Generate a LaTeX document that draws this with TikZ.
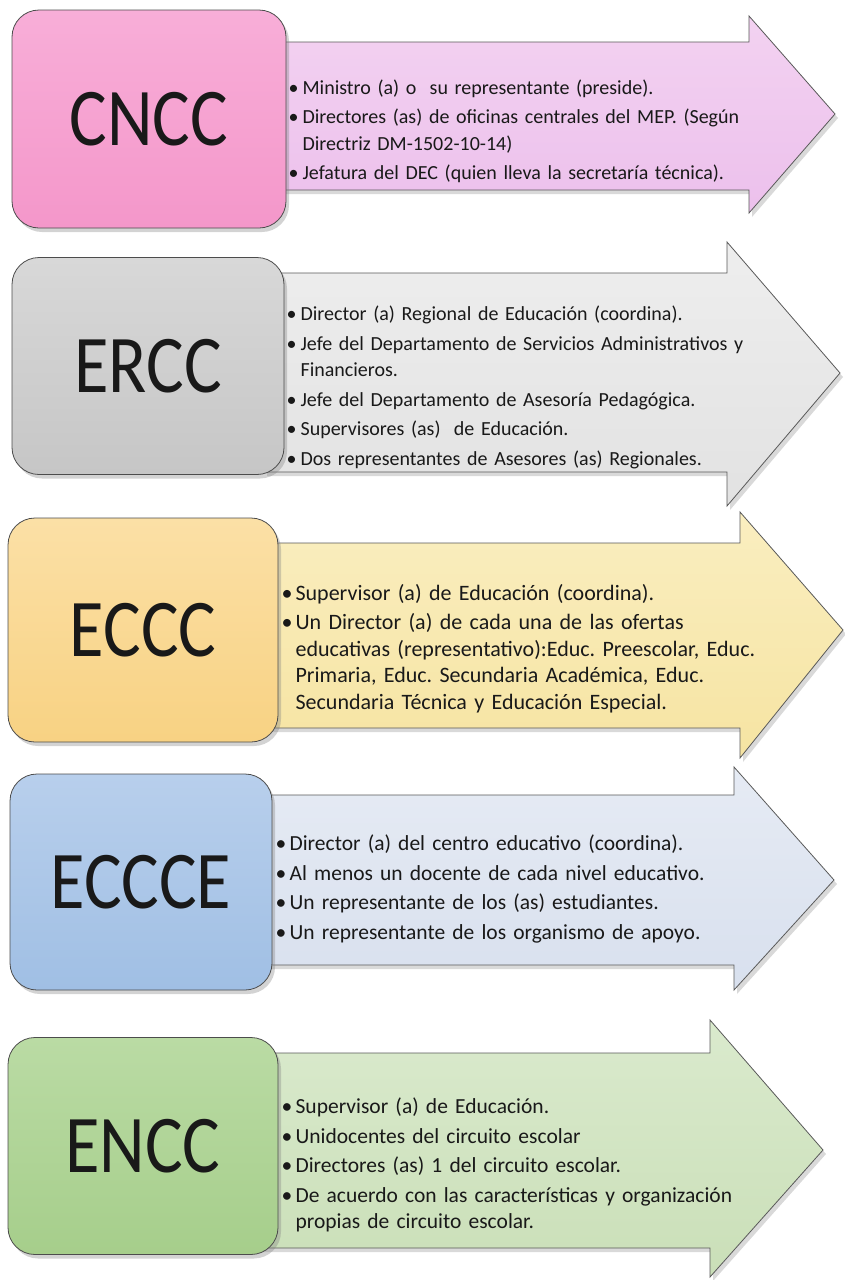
\documentclass[tikz,border=0pt]{standalone}
\usepackage{fontspec}
\setmainfont[WordSpace=0.9]{Carlito}
\newfontfamily\titlefont[FakeStretch=0.86]{Carlito}
\usepackage{tikz}
\usetikzlibrary{positioning}
\usetikzlibrary{shadows}
\usepackage{xcolor}

\definecolor{cnccBox}{HTML}{F497CA}
\definecolor{cnccBoxTop}{HTML}{F8AED8}
\definecolor{cnccArrow}{HTML}{ECC0EC}
\definecolor{cnccArrowTop}{HTML}{F3D2F1}
\definecolor{erccBox}{HTML}{C6C6C6}
\definecolor{erccBoxTop}{HTML}{D8D8D8}
\definecolor{erccArrow}{HTML}{E2E2E2}
\definecolor{erccArrowTop}{HTML}{EEEEEE}
\definecolor{ecccBox}{HTML}{F8D283}
\definecolor{ecccBoxTop}{HTML}{FBE0A6}
\definecolor{ecccArrow}{HTML}{F6E4A2}
\definecolor{ecccArrowTop}{HTML}{FAEEC0}
\definecolor{eccceBox}{HTML}{A0BFE4}
\definecolor{eccceBoxTop}{HTML}{B8CFEC}
\definecolor{eccceArrow}{HTML}{D8E0EE}
\definecolor{eccceArrowTop}{HTML}{E6EBF4}
\definecolor{enccBox}{HTML}{A6CE8B}
\definecolor{enccBoxTop}{HTML}{BADBA4}
\definecolor{enccArrow}{HTML}{CADFB8}
\definecolor{enccArrowTop}{HTML}{DAEACD}

\newcommand{\bitem}{\par\hangindent=14pt\hangafter=1\noindent\makebox[14pt][l]{\textbullet}}

\tikzset{
  titlebox/.style={rectangle, rounded corners=27pt, draw=black!70, line width=0.8pt, inner sep=0pt,
    font=\titlefont\fontsize{82}{90}\selectfont, text=black!90,
    drop shadow={opacity=0.35, shadow xshift=3pt, shadow yshift=-4pt}},
  memberlist/.style={inner sep=0pt, text width=540pt, text=black!90,
    font=\fontsize{#1}{26.5}\selectfont,
    execute at begin node={\raggedright\frenchspacing\setlength{\parskip}{3pt}}},
  bigarrow/.style={draw=black!65, line width=0.8pt,
    drop shadow={opacity=0.3, shadow xshift=3pt, shadow yshift=-4pt}}
}

\begin{document}
\begin{tikzpicture}[x=1pt, y=-1pt]
\useasboundingbox (0,0) rectangle (844,1280);

% Arrows
\draw[bigarrow, top color=cnccArrowTop, bottom color=cnccArrow] (266,42) -- (749,42) -- (749,16) -- (835,114) -- (749,213) -- (749,190) -- (266,190) -- cycle;
\draw[bigarrow, top color=erccArrowTop, bottom color=erccArrow] (264,273) -- (727,273) -- (727,242) -- (840,373) -- (727,506) -- (727,472) -- (264,472) -- cycle;
\draw[bigarrow, top color=ecccArrowTop, bottom color=ecccArrow] (258,543) -- (740,543) -- (740,512) -- (843,630) -- (740,758) -- (740,728) -- (258,728) -- cycle;
\draw[bigarrow, top color=eccceArrowTop, bottom color=eccceArrow] (252,795) -- (734,795) -- (734,767) -- (834,880) -- (734,990) -- (734,965) -- (252,965) -- cycle;
\draw[bigarrow, top color=enccArrowTop, bottom color=enccArrow] (258,1053) -- (710,1053) -- (710,1020) -- (823,1150) -- (710,1277) -- (710,1248) -- (258,1248) -- cycle;

% Boxes
\node (cncc) [titlebox, minimum width=274pt, minimum height=218pt, top color=cnccBoxTop, bottom color=cnccBox] at (149,119) {CNCC};
\node (ercc) [titlebox, minimum width=272pt, minimum height=217pt, top color=erccBoxTop, bottom color=erccBox] at (148,366) {ERCC};
\node (eccc) [titlebox, minimum width=270pt, minimum height=224pt, top color=ecccBoxTop, bottom color=ecccBox] at (143,630) {ECCC};
\node (eccce) [titlebox, minimum width=262pt, minimum height=216pt, top color=eccceBoxTop, bottom color=eccceBox] at (141,882) {ECCCE};
\node (encc) [titlebox, minimum width=270pt, minimum height=217pt, top color=enccBoxTop, bottom color=enccBox] at (143,1146) {ENCC};

% Members
\node (cnccList) [memberlist=20, right=2pt of cncc, yshift=-5pt] {%
\bitem Ministro (a) o \ su representante (preside).
\bitem Directores (as) de oficinas centrales del MEP. (Según\newline Directriz DM-1502-10-14)
\bitem Jefatura del DEC (quien lleva la secretaría técnica).\par};
\node (erccList) [memberlist=20, right=2pt of ercc, yshift=-14pt] {%
\bitem Director (a) Regional de Educación (coordina).
\bitem Jefe del Departamento de Servicios Administrativos y\newline Financieros.
\bitem Jefe del Departamento de Asesoría Pedagógica.
\bitem Supervisores (as) \ de Educación.
\bitem Dos representantes de Asesores (as) Regionales.\par};
\node (ecccList) [memberlist=22, right=3pt of eccc, yshift=-12pt] {%
\bitem Supervisor (a) de Educación (coordina).
\bitem Un Director (a) de cada una de las ofertas\newline educativas (representativo):Educ. Preescolar, Educ.\newline Primaria, Educ. Secundaria Académica, Educ.\newline Secundaria Técnica y Educación Especial.\par};
\node (eccceList) [memberlist=21.5, right=3pt of eccce, yshift=0pt] {%
\bitem Director (a) del centro educativo (coordina).
\bitem Al menos un docente de cada nivel educativo.
\bitem Un representante de los (as) estudiantes.
\bitem Un representante de los organismo de apoyo.\par};
\node (enccList) [memberlist=21.5, right=3pt of encc, yshift=-12pt] {%
\bitem Supervisor (a) de Educación.
\bitem Unidocentes del circuito escolar
\bitem Directores (as) 1 del circuito escolar.
\bitem De acuerdo con las características y organización\newline propias de circuito escolar.\par};

\end{tikzpicture}
\end{document}
